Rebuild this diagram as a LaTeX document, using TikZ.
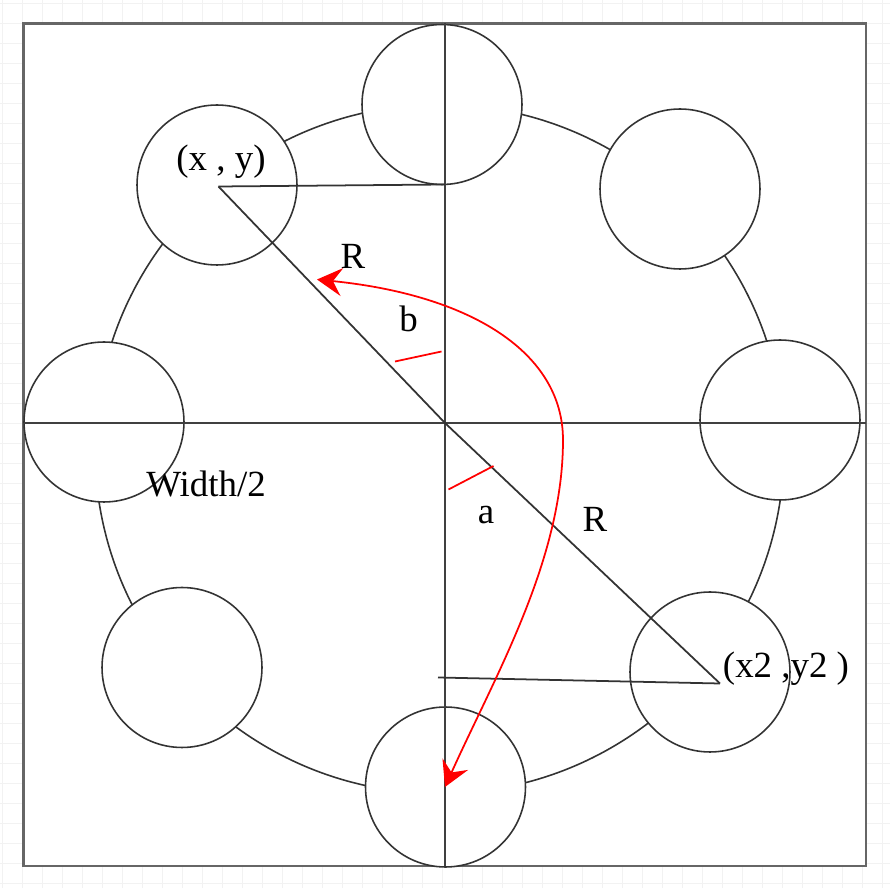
\documentclass[tikz,border=0pt]{standalone}
\usepackage{fontspec}
\setmainfont{Liberation Serif}
\usetikzlibrary{arrows.meta}

\def\outerbox{(23.5,23.5) rectangle (866,866)}
\def\bigcircle{(439.5,449) circle (344.5)}
\colorlet{box edge}{black!60}
\colorlet{line dark}{black!80}
\colorlet{grid line}{black!5}
\colorlet{sweep line}{red}
\tikzset{ball/.style={circle, draw=line dark, fill=white, line width=0.9pt,
        minimum size=3.2cm, inner sep=0pt},
    ring/.style={draw=line dark, line width=0.9pt},
    axis/.style={draw=black!75, line width=1.2pt},
    radius/.style={draw=line dark, line width=1pt},
    anglemark/.style={draw=sweep line, line width=1pt},
    sweep/.style={draw=sweep line, line width=1pt,
        {Stealth[length=0.5cm, width=0.56cm, inset=0.18cm]}-{Stealth[length=0.5cm, width=0.56cm, inset=0.18cm]}},
    gridline/.style={draw=grid line, line width=0.5pt},
    boxline/.style={draw=box edge, fill=white, line width=1.4pt},
    txt/.style={inner sep=0pt, font=\fontsize{21}{25}\selectfont}}

\begin{document}
\begin{tikzpicture}[x=0.02cm, y=-0.02cm]
    \useasboundingbox (0,0) rectangle (890,888);
    \foreach \g in {2,22,...,882} \draw[gridline] (\g,0) -- (\g,888);
    \foreach \g in {3,23,...,883} \draw[gridline] (0,\g) -- (890,\g);
    \path[boxline] \outerbox;
    \draw[ring] \bigcircle;

    % the eight small circles
    \node[ball] (top) at (442,104.5) {};
    \node[ball] (topright) at (680,189) {};
    \node[ball] (right) at (780,420) {};
    \node[ball] (xy2) at (710,672) {};
    \node[ball] (bottom) at (445.5,787) {};
    \node[ball] (bottomleft) at (182,667.5) {};
    \node[ball] (left) at (104,422) {};
    \node[ball] (xy) at (217,185) {};

    \coordinate (o) at (445,423);
    \coordinate (north) at (445,23.5);
    \coordinate (south) at (445,866);
    \coordinate (west) at (23.5,423);
    \coordinate (east) at (866,423);
    \coordinate (p1) at (218.5,186.5);
    \coordinate (p2) at (720,683.5);
    \coordinate (foot1) at (445,184.5);
    \coordinate (foot2) at (438,677.5);

    \draw[axis] (north) -- (south);
    \draw[axis] (west) -- (east);
    \draw[radius] (p1) -- (foot1);
    \draw[radius] (p1) -- (o) -- (p2);
    \draw[radius] (foot2) -- (p2);

    % angle marks
    \coordinate (b1) at (395,361.5);
    \coordinate (b2) at (441.5,351.5);
    \coordinate (a1) at (448.5,489.5);
    \coordinate (a2) at (493.5,466);
    \draw[anglemark] (b1) -- (b2);
    \draw[anglemark] (a1) -- (a2);

    \coordinate (s1) at (317,279.5);
    \coordinate (s2) at (563,440);
    \coordinate (s3) at (445,787);
    \draw[sweep] (s1) .. controls (470,295) and (563,352) .. (s2)
                      .. controls (563,560) and (495,676) .. (s3);

    \node[txt] (xylabel) at (221,162) {(x , y)};
    \node[txt] (xy2label) at (786,669) {(x2 ,y2 )};
    \node[txt] (halfwidth) at (206,484) {Width/2};
    \node[txt] (rtop) at (353,256) {R};
    \node[txt] (rbottom) at (595,519.5) {R};
    \node[txt] (blabel) at (408.5,319) {b};
    \node[txt] (alabel) at (486,515) {a};
\end{tikzpicture}
\end{document}
